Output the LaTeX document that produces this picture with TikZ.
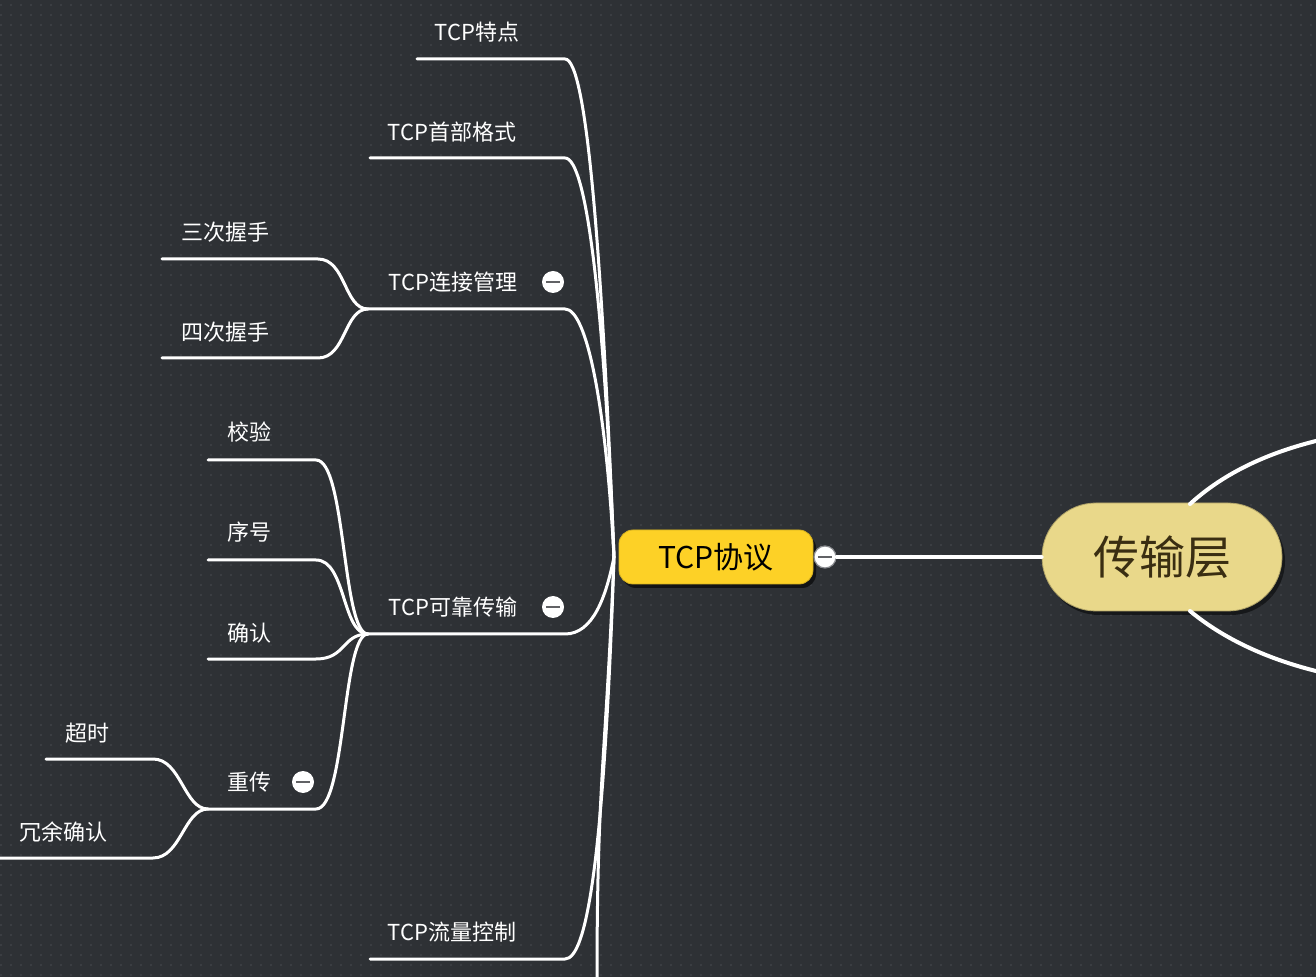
\documentclass[tikz,border=0pt]{standalone}
\usepackage{fontspec}
\setmainfont{Noto Sans CJK SC}
\usetikzlibrary{shapes.misc, shadows}
\definecolor{boardbg}{HTML}{2E3135}
\definecolor{boarddot}{HTML}{3B3E43}
\definecolor{topicyel}{HTML}{FDD126}
\definecolor{rootkhaki}{HTML}{E9D88A}
\definecolor{roottext}{HTML}{3A2E12}
\definecolor{foldgray}{HTML}{8A8C90}
\tikzset{
    leaf/.style={text=white, font=\fontsize{11}{13}\selectfont, inner sep=1pt},
    branch/.style={draw=white, line width=1.5pt, line cap=round},
    foldbtn/.style={circle, fill=white, minimum size=11pt, inner sep=0pt,
        path picture={\draw[foldgray!70!black, line width=1.3pt]
            ([xshift=-3.6pt]path picture bounding box.center) -- ([xshift=3.6pt]path picture bounding box.center);}},
    topic/.style={rectangle, rounded corners=7pt, fill=topicyel, draw=topicyel!85!black,
        minimum width=97pt, minimum height=27pt, font=\fontsize{15}{18}\selectfont,
        drop shadow={shadow xshift=1.5pt, shadow yshift=-2pt, fill=black, opacity=0.6}},
    rootnode/.style={rounded rectangle, fill=rootkhaki, draw=rootkhaki!75!black,
        minimum width=120pt, minimum height=54pt, inner sep=0pt, font=\fontsize{23}{27}\selectfont, text=roottext,
        drop shadow={shadow xshift=1.5pt, shadow yshift=-2pt, fill=black, opacity=0.5}},
}

\begin{document}
\begin{tikzpicture}[x=0.5pt, y=-0.5pt]

% ── Board ──
\fill[boardbg] (0,0) rectangle (1316,977);
\useasboundingbox (0,0) rectangle (1316,977);
\foreach \gy in {5,15,...,975}
    \draw[boarddot, line width=1pt, dash pattern=on 1pt off 4pt] (0,\gy) -- (1316,\gy);

% ── Centre nodes ──
\node[topic] (tcp) at (716,557) {TCP协议};
\node[foldbtn, draw=foldgray, line width=0.6pt] (tcpfold) at (825,557) {};
\node[rootnode] (trans) at (1162,557) {传输层};
\coordinate (hub) at (614,557);

\draw[branch, line width=2pt] (tcpfold) -- (trans);

% ── Sibling branches of 传输层 (leave the picture) ──
\coordinate (transup) at (1320,440);
\coordinate (transdown) at (1320,672);
\draw[branch, line width=2pt] (1190,504) .. controls (1225,472) and (1270,452) .. (transup);
\draw[branch, line width=2pt] (1190,611) .. controls (1225,640) and (1270,660) .. (transdown);

% ── Topics ──
\node[leaf] (tedian) at (477,32) {TCP特点};
\coordinate (tedian-l) at (417,59);
\coordinate (tedian-r) at (565,59);

\node[leaf] (shoubu) at (452,132) {TCP首部格式};
\coordinate (shoubu-l) at (370,158);
\coordinate (shoubu-r) at (565,158);

\node[leaf] (lianjie) at (453,282) {TCP连接管理};
\node[foldbtn] (lianjiefold) at (553,282) {};
\coordinate (lianjie-l) at (368,309);
\coordinate (lianjie-r) at (565,309);

\node[leaf] (kekao) at (453,607) {TCP可靠传输};
\node[foldbtn] (kekaofold) at (553,607) {};
\coordinate (kekao-l) at (368,634);
\coordinate (kekao-r) at (565,634);

\node[leaf] (liuliang) at (452,932) {TCP流量控制};
\coordinate (liuliang-l) at (370,959);
\coordinate (liuliang-r) at (565,959);

\coordinate (downend) at (597,980);

\draw[branch] (tedian-l) -- (tedian-r) .. controls +(22,0) and +(-12,-300) .. (hub);
\draw[branch] (shoubu-l) -- (shoubu-r) .. controls +(22,0) and +(-10,-250) .. (hub);
\draw[branch] (lianjie-l) -- (lianjie-r) .. controls +(22,0) and +(-8,-150) .. (hub);
\draw[branch] (kekao-l) -- (kekao-r) .. controls +(28,0) and +(-8,40) .. (hub);
\draw[branch] (liuliang-l) -- (liuliang-r) .. controls +(22,0) and +(-10,300) .. (hub);
\draw[branch] (hub) .. controls +(-8,200) and +(0,-200) .. (downend);

% ── 连接管理 children ──
\node[leaf] (sanci) at (225,232) {三次握手};
\coordinate (sanci-l) at (162,259);
\coordinate (sanci-r) at (318,259);
\node[leaf] (sici) at (225,332) {四次握手};
\coordinate (sici-l) at (162,358);
\coordinate (sici-r) at (318,358);

\draw[branch] (sanci-l) -- (sanci-r) .. controls +(28,0) and +(-24,0) .. (lianjie-l);
\draw[branch] (sici-l) -- (sici-r) .. controls +(28,0) and +(-24,0) .. (lianjie-l);

% ── 可靠传输 children ──
\node[leaf] (jiaoyan) at (249,432) {校验};
\coordinate (jiaoyan-l) at (208,460);
\coordinate (jiaoyan-r) at (316,460);
\node[leaf] (xuhao) at (249,532) {序号};
\coordinate (xuhao-l) at (208,560);
\coordinate (xuhao-r) at (316,560);
\node[leaf] (queren) at (249,633) {确认};
\coordinate (queren-l) at (208,659);
\coordinate (queren-r) at (316,659);
\node[leaf] (chongchuan) at (249,782) {重传};
\node[foldbtn] (chongfold) at (303,782) {};
\coordinate (chongchuan-l) at (208,809);
\coordinate (chongchuan-r) at (316,809);

\foreach \kid in {jiaoyan, xuhao, queren, chongchuan}
    \draw[branch] (\kid-l) -- (\kid-r) .. controls +(30,0) and +(-26,0) .. (kekao-l);

% ── 重传 children ──
\node[leaf] (chaoshi) at (87,733) {超时};
\coordinate (chaoshi-l) at (46,759);
\coordinate (chaoshi-r) at (153,759);
\node[leaf] (rongyu) at (63,832) {冗余确认};
\coordinate (rongyu-l) at (0,858);
\coordinate (rongyu-r) at (153,858);

\draw[branch] (chaoshi-l) -- (chaoshi-r) .. controls +(28,0) and +(-24,0) .. (chongchuan-l);
\draw[branch] (rongyu-l) -- (rongyu-r) .. controls +(28,0) and +(-24,0) .. (chongchuan-l);

\end{tikzpicture}
\end{document}
